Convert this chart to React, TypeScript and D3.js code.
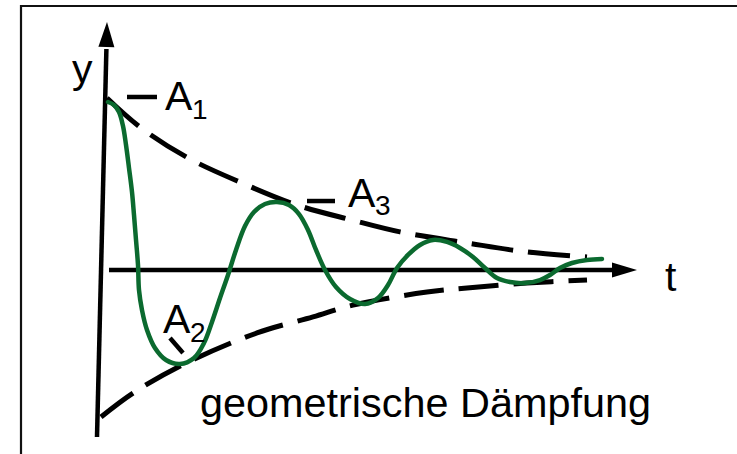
import React from "react";
import * as d3 from "d3";

const W = 737;
const H = 454;

// Damped oscillation (green), t in arbitrary time units, y relative to A1
const curveT = [0.02, 0.14, 0.24, 0.32, 0.38, 0.44, 0.5, 0.54, 0.58, 0.62, 0.64, 0.7, 0.8, 0.96, 1.18, 1.46, 1.74, 1.94, 2.1, 2.26, 2.42, 2.58, 2.76, 2.94, 3.16, 3.4, 3.64, 3.84, 4.02, 4.18, 4.36, 4.58, 4.86, 5.16, 5.42, 5.62, 5.8, 6.02, 6.26, 6.52, 6.8, 7.06, 7.32, 7.56, 7.8, 8.06, 8.36, 8.66, 8.86, 9.06, 9.3, 9.6, 9.9];
const curveY = [1.006, 0.988, 0.946, 0.862, 0.749, 0.611, 0.467, 0.329, 0.18, 0.03, -0.12, -0.24, -0.359, -0.467, -0.539, -0.563, -0.527, -0.437, -0.311, -0.168, -0.03, 0.12, 0.263, 0.347, 0.395, 0.407, 0.389, 0.335, 0.24, 0.12, 0, -0.102, -0.174, -0.204, -0.168, -0.09, 0.012, 0.09, 0.15, 0.18, 0.168, 0.132, 0.078, 0.012, -0.048, -0.072, -0.078, -0.06, -0.03, 0.012, 0.042, 0.06, 0.066];

// Envelopes (dashed)
const upperT = [0, 0.66, 1.62, 2.7, 3.8, 4.9, 5.86, 7.2, 8.4, 9.6];
const upperY = [1.03, 0.856, 0.671, 0.521, 0.389, 0.299, 0.228, 0.162, 0.108, 0.078];
const lowerT = [-0.12, 0.52, 1.5, 3.0, 4.12, 4.92, 6.4, 7.2, 8.4, 9.6];
const lowerY = [-0.88, -0.737, -0.569, -0.377, -0.281, -0.21, -0.132, -0.108, -0.078, -0.06];

// Annotation labels
const ampLabels = ["A", "A", "A"];
const ampSubs = ["1", "2", "3"];
const ampLabelT = [1.16, 1.12, 4.82];
const ampLabelY = [0.958, -0.377, 0.377];
const ampSubY = [0.904, -0.431, 0.329];
const ampDashT0 = [0.4, 1.26, 4.0];
const ampDashT1 = [1.0, 1.52, 4.56];
const ampDashY0 = [1.036, -0.407, 0.413];
const ampDashY1 = [1.036, -0.497, 0.413];

const axisLabelY = "y";
const axisLabelT = "t";
const caption = "geometrische Dämpfung";

const GREEN = "#0b6a2f";
const FONT = "'Liberation Sans', Arial, Helvetica, sans-serif";

export default function App() {
  const x = d3.scaleLinear().domain([0, 10]).range([107, 607]);
  const y = d3.scaleLinear().domain([-1, 1]).range([437, 103]);

  const line = d3
    .line<[number, number]>()
    .x((d) => x(d[0]))
    .y((d) => y(d[1]))
    .curve(d3.curveCatmullRom.alpha(0.5));

  const curvePts = curveT.map((t, i) => [t, curveY[i]] as [number, number]);
  const upperPts = upperT.map((t, i) => [t, upperY[i]] as [number, number]);
  const lowerPts = lowerT.map((t, i) => [t, lowerY[i]] as [number, number]);

  // y axis (slightly tilted, as in the sketch)
  const yAxisBottom: [number, number] = [x(-0.2), y(-1.0)];
  const yAxisTip: [number, number] = [x(0), y(1.485)];
  const yHeadLen = 25;
  const yHeadHalf = 8;
  const ydx = yAxisTip[0] - yAxisBottom[0];
  const ydy = yAxisTip[1] - yAxisBottom[1];
  const ylen = Math.hypot(ydx, ydy);
  const yux = ydx / ylen;
  const yuy = ydy / ylen;
  const yBase: [number, number] = [yAxisTip[0] - yux * yHeadLen, yAxisTip[1] - yuy * yHeadLen];
  const yHead = [
    yAxisTip,
    [yBase[0] - yuy * yHeadHalf, yBase[1] + yux * yHeadHalf],
    [yBase[0] + yuy * yHeadHalf, yBase[1] - yux * yHeadHalf],
  ];

  // t axis
  const tStart = x(0.04);
  const tTip = x(10.6);
  const tBase = tTip - 25;
  const y0 = y(0);

  return (
    <div style={{ position: "fixed", left: 0, top: 0, width: W, height: H, background: "#fff" }}>
      <svg width={W} height={H} style={{ display: "block" }}>
        <rect x={0} y={0} width={W} height={H} fill="#fff" />
        {/* frame */}
        <path d={`M21,${H + 5} V6 H${W + 5}`} fill="none" stroke="#111" strokeWidth={2.2} />

        {/* envelopes */}
        <path d={line(upperPts) || ""} fill="none" stroke="#000" strokeWidth={5} strokeDasharray="42 15" />
        <path d={line(lowerPts) || ""} fill="none" stroke="#000" strokeWidth={5} strokeDasharray="40 15" />

        {/* axes */}
        <line x1={tStart} y1={y0} x2={tBase + 2} y2={y0} stroke="#000" strokeWidth={4.5} />
        <polygon points={`${tTip},${y0} ${tBase},${y0 - 7.5} ${tBase},${y0 + 7.5}`} fill="#000" />
        <line x1={yAxisBottom[0]} y1={yAxisBottom[1]} x2={yBase[0]} y2={yBase[1] + 2} stroke="#000" strokeWidth={4.5} />
        <polygon points={yHead.map((p) => p.join(",")).join(" ")} fill="#000" />

        {/* damped oscillation */}
        <path d={line(curvePts) || ""} fill="none" stroke={GREEN} strokeWidth={4.5} strokeLinecap="round" strokeLinejoin="round" />

        {/* amplitude markers */}
        {ampLabels.map((a, i) => (
          <g key={i}>
            <line
              x1={x(ampDashT0[i])}
              y1={y(ampDashY0[i])}
              x2={x(ampDashT1[i])}
              y2={y(ampDashY1[i])}
              stroke="#000"
              strokeWidth={4.5}
            />
            <text x={x(ampLabelT[i])} y={y(ampLabelY[i])} fontFamily={FONT} fontSize={41} fill="#000">
              {a}
            </text>
            <text
              x={x(ampLabelT[i]) + 27}
              y={y(ampSubY[i])}
              fontFamily={FONT}
              fontSize={28}
              fill="#000"
            >
              {ampSubs[i]}
            </text>
          </g>
        ))}

        {/* axis labels */}
        <text x={x(-0.7)} y={y(1.12)} fontFamily={FONT} fontSize={41} fill="#000">
          {axisLabelY}
        </text>
        <text x={x(11.16)} y={y(-0.126)} fontFamily={FONT} fontSize={41} fill="#000">
          {axisLabelT}
        </text>
        <text
          x={x(1.86)}
          y={y(-0.883)}
          fontFamily={FONT}
          fontSize={41.5}
          fill="#000"
          textLength={451}
          lengthAdjust="spacingAndGlyphs"
        >
          {caption}
        </text>
      </svg>
    </div>
  );
}
